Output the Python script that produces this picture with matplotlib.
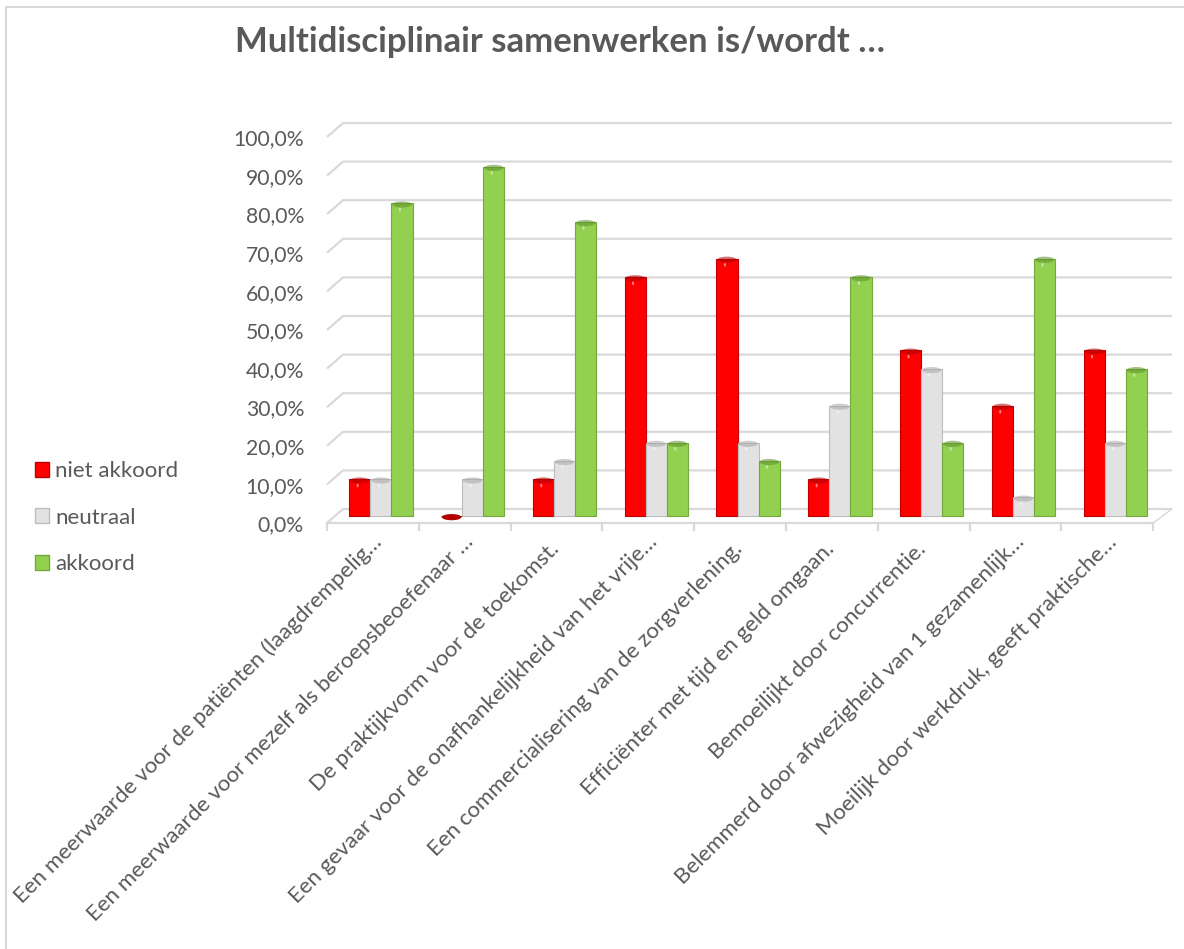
import matplotlib
matplotlib.use("Agg")
import matplotlib.pyplot as plt
from matplotlib.patches import Patch, Ellipse, Rectangle

plt.rcParams['font.family'] = ['Lato', 'DejaVu Sans']

# ---------------- data ----------------
categories = [
    "Een meerwaarde voor de patiënten (laagdrempelig…",
    "Een meerwaarde voor mezelf als beroepsbeoefenaar …",
    "De praktijkvorm voor de toekomst.",
    "Een gevaar voor de onafhankelijkheid van het vrije…",
    "Een commercialisering van de zorgverlening.",
    "Efficiënter met tijd en geld omgaan.",
    "Bemoeilijkt door concurrentie.",
    "Belemmerd door afwezigheid van 1 gezamenlijk…",
    "Moeilijk door werkdruk, geeft praktische…",
]
series_names = ["niet akkoord", "neutraal", "akkoord"]
niet_akkoord = [9.5, 0.0, 9.5, 61.9, 66.7, 9.5, 42.9, 28.6, 42.9]
neutraal = [9.5, 9.5, 14.3, 19.0, 19.0, 28.6, 38.1, 4.8, 19.0]
akkoord = [81.0, 90.5, 76.2, 19.0, 14.3, 61.9, 19.0, 66.7, 38.1]
yticks = [0, 10, 20, 30, 40, 50, 60, 70, 80, 90, 100]
title = "Multidisciplinair samenwerken is/wordt …"

# ---------------- style ----------------
face = ["#FF0000", "#E2E2E2", "#92D050"]
edge = ["#C00000", "#BDBDBD", "#74A83A"]
cap = ["#B00000", "#A8A8A8", "#5E8F2A"]
grid_col = "#D9D9D9"
text_col = "#595959"

W, H = 1184, 949
fig = plt.figure(figsize=(W / 100, H / 100), dpi=100)

# pixel geometry of the (pseudo-3D) plot area, mid-depth plane
X0_PX = 335.0      # left edge of first category (mid-depth)
GW_PX = 91.8       # category width in px
Y0_PX = 516.0      # 0% (mid-depth)
PPP = 3.86         # px per percent
DX = 8.0 / GW_PX   # half depth offset in x (data units)
DY = 7.0 / PPP     # half depth offset in y (data units)

ax = fig.add_axes([0, 0, 1, 1])
ax.set_xlim((0 - X0_PX) / GW_PX, (W - X0_PX) / GW_PX)
ax.set_ylim((Y0_PX - H) / PPP, (Y0_PX - 0) / PPP)
ax.axis("off")

n = len(categories)

# chart border (left and top visible)
fig.patches.append(Rectangle((6 / W, -0.1), 1.2, 1 - 7 / H + 0.1, transform=fig.transFigure,
                             fill=False, edgecolor="#D9D9D9", linewidth=1.5, zorder=0))

# back wall gridlines with perspective stubs
xr = (1172 - X0_PX) / GW_PX
for v in yticks:
    ax.plot([-DX, DX, xr], [v - DY, v + DY, v + DY], color=grid_col, lw=1.6,
            solid_capstyle="butt", zorder=1)
    ax.text((304 - X0_PX) / GW_PX, v - DY - 0.6, f"{v:.1f}%".replace(".", ","),
            ha="right", va="center", fontsize=15.2, color=text_col)

# front floor line and ticks
ax.plot([-DX, n - DX], [-DY, -DY], color=grid_col, lw=1.6, zorder=1)
ax.plot([n - DX, xr], [-DY, DY], color=grid_col, lw=1.0, zorder=1)
for i in range(n + 1):
    ax.plot([i - DX, i - DX], [-DY, -DY - 1.9], color=grid_col, lw=1.6, zorder=1)

# bars
bw = 0.23
series = [niet_akkoord, neutraal, akkoord]
for s, vals in enumerate(series):
    xs = [i + 0.5 + (s - 1) * bw for i in range(n)]
    ax.bar(xs, vals, width=bw, color=face[s], edgecolor=edge[s], linewidth=0.8, zorder=3)
    for x, v in zip(xs, vals):
        ax.add_patch(Ellipse((x, v - 0.3), bw * 0.92, 1.6, facecolor=cap[s],
                             edgecolor="none", alpha=0.55 if v > 0 else 1.0, zorder=4))
        if v > 0:
            ax.add_patch(Ellipse((x - bw * 0.1, v - 1.6), bw * 0.1, 1.0,
                                 facecolor="white", edgecolor="none", alpha=0.5, zorder=5))

# category labels (truncated labels sit a little further along the diagonal)
for i, lab in enumerate(categories):
    shift = 7 if lab.endswith("…") else 0
    ax.text(i + 0.5 + (shift - 9) / GW_PX, (Y0_PX - 546 + shift) / PPP, lab, rotation=45,
            rotation_mode="anchor", ha="right", va="center",
            fontsize=16, color=text_col)

# title
fig.text(560 / W, 1 - 42 / H, title, ha="center", va="center",
         fontsize=25, fontweight="bold", color=text_col)

# legend
handles = [Patch(facecolor=face[k], edgecolor=edge[k], linewidth=1.0) for k in range(3)]
fig.legend(handles, series_names, loc="upper left",
           bbox_to_anchor=(35 / W, 1 - 461 / H), frameon=False,
           fontsize=16, labelcolor=text_col, handlelength=0.65, handleheight=0.65,
           handletextpad=0.25, labelspacing=1.2, borderpad=0, borderaxespad=0)

fig.savefig("out.png", dpi=100)
